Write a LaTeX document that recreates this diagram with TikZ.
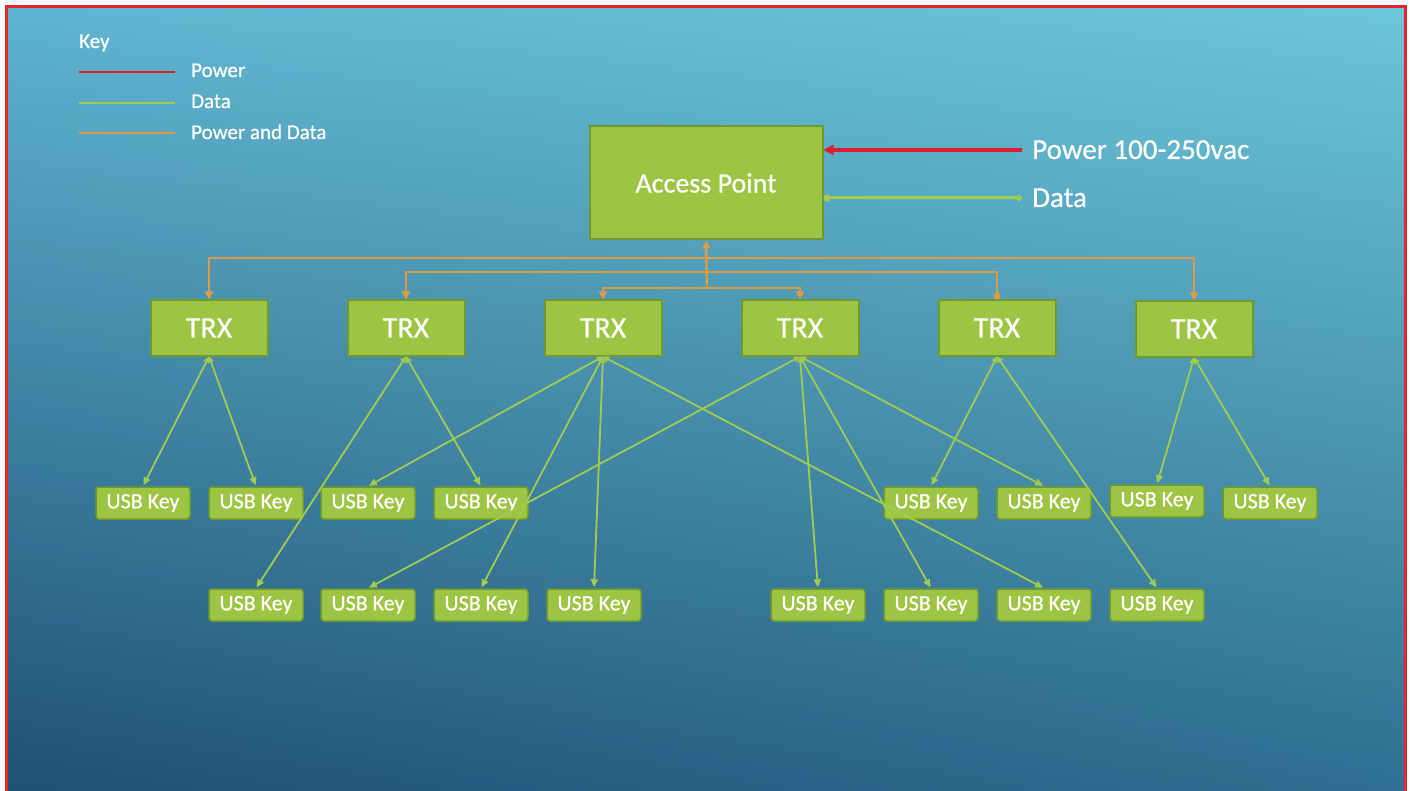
\documentclass[tikz,border=0pt]{standalone}
\usepackage{fontspec}
\setmainfont{Carlito}[BoldFont=Carlito, BoldFeatures={FakeBold=0.6}]
\usetikzlibrary{arrows.meta,shadings}
\definecolor{bgTL}{HTML}{5FB4CF}
\definecolor{bgTR}{HTML}{6CC6D9}
\definecolor{bgBL}{HTML}{1E4E74}
\definecolor{bgBR}{HTML}{2F6E90}
\definecolor{boxfill}{HTML}{9DC443}
\definecolor{boxedge}{HTML}{6E9B30}
\definecolor{datagreen}{HTML}{A2CB4F}
\definecolor{pdorange}{HTML}{DC9B45}
\definecolor{pwred}{HTML}{DD1E2B}
\definecolor{framered}{HTML}{E8242C}
\begin{document}
\begin{tikzpicture}[x=1pt,y=-1pt,
  box/.style={draw=boxedge, line width=2pt, fill=boxfill, text=white, inner sep=0pt},
  apbox/.style={box, minimum width=233pt, minimum height=113pt, font=\bfseries\fontsize{28}{30}\selectfont},
  trxbox/.style={box, minimum width=117pt, minimum height=55pt, font=\bfseries\fontsize{30}{32}\selectfont},
  usbbox/.style={box, line width=1.5pt, rounded corners=3pt, minimum width=94pt, minimum height=32pt, font=\bfseries\fontsize{22}{24}\selectfont},
  dataline/.style={draw=datagreen, line width=1.8pt, shorten >=1pt,
    {Triangle[length=6pt,width=6pt]}-{Triangle[length=8pt,width=7pt]}},
  pdline/.style={draw=pdorange, line width=2.5pt},
  pdtip/.style={-{Triangle[length=8pt,width=8pt]}},
  keytext/.style={text=white, anchor=base west, inner sep=0pt, font=\bfseries\fontsize{21}{23}\selectfont},
  sidetext/.style={text=white, anchor=base west, inner sep=0pt, font=\bfseries\fontsize{29}{31}\selectfont},
]
\useasboundingbox (0,0) rectangle (1410,791);
\fill[white] (0,0) rectangle (1410,791);
% backdrop and frame
\shade[upper left=bgTL, upper right=bgTR, lower left=bgBL, lower right=bgBR]
  (6,7) rectangle (1405,800);
\draw[framered, line width=3pt] (6,7) rectangle (1405,800);

% legend
\node[keytext] (keyhead) at (79,48) {Key};
\node[keytext] (kpw) at (191,77) {Power};
\node[keytext] (kdt) at (191,108) {Data};
\node[keytext] (kpd) at (191,139) {Power and Data};
\coordinate (kpwA) at (79,72);  \coordinate (kpwB) at (175,72);
\coordinate (kdtA) at (79,103); \coordinate (kdtB) at (175,103);
\coordinate (kpdA) at (79,133); \coordinate (kpdB) at (175,133);
\draw[pwred, line width=2.5pt] (kpwA) -- (kpwB);
\draw[datagreen, line width=2pt] (kdtA) -- (kdtB);
\draw[pdorange, line width=2pt] (kpdA) -- (kpdB);

% access point and its feeds
\node[apbox] (ap) at (706,183) {Access Point};
\node[sidetext] (pwlbl) at (1032,159) {Power 100-250vac};
\node[sidetext] (dtlbl) at (1032,207) {Data};
\coordinate (pwend) at (1022,150);
\coordinate (dtend) at (1022,198);
\draw[pwred, line width=3.2pt, -{Triangle[length=10pt,width=10pt]}] (pwend) -- (ap.east |- pwend);
\draw[datagreen, line width=3pt, {Circle[length=6pt]}-{Circle[length=7pt]}] (dtend) -- (ap.east |- dtend);

% transceivers
\node[trxbox] (t1) at (209,328) {TRX};
\node[trxbox] (t2) at (406,328) {TRX};
\node[trxbox] (t3) at (603,328) {TRX};
\node[trxbox] (t4) at (800,328) {TRX};
\node[trxbox] (t5) at (997,328) {TRX};
\node[trxbox] (t6) at (1194,329) {TRX};

% power and data distribution
\coordinate (hubA) at (707,258);
\coordinate (hubB) at (707,272);
\coordinate (hubC) at (707,288);
\draw[pdline, {Triangle[length=8pt,width=8pt]}-] (ap.south) -- (hubC);
\draw[pdline, pdtip] (hubA) -| (t1.north);
\draw[pdline, pdtip] (hubA) -| (t6.north);
\draw[pdline, pdtip] (hubB) -| (t2.north);
\draw[pdline, -{Circle[length=7pt]}] (hubB) -| (t5.north);
\draw[pdline, pdtip] (hubC) -| (t3.north);
\draw[pdline, pdtip] (hubC) -| (t4.north);

% USB keys, upper row
\node[usbbox] (u1) at (143,503) {USB Key};
\node[usbbox] (u2) at (256,503) {USB Key};
\node[usbbox] (u3) at (368,503) {USB Key};
\node[usbbox] (u4) at (481,503) {USB Key};
\node[usbbox] (u5) at (931,503) {USB Key};
\node[usbbox] (u6) at (1044,503) {USB Key};
\node[usbbox] (u7) at (1157,501) {USB Key};
\node[usbbox] (u8) at (1270,503) {USB Key};
% USB keys, lower row
\node[usbbox] (v1) at (256,605) {USB Key};
\node[usbbox] (v2) at (368,605) {USB Key};
\node[usbbox] (v3) at (481,605) {USB Key};
\node[usbbox] (v4) at (594,605) {USB Key};
\node[usbbox] (v5) at (818,605) {USB Key};
\node[usbbox] (v6) at (931,605) {USB Key};
\node[usbbox] (v7) at (1044,605) {USB Key};
\node[usbbox] (v8) at (1157,605) {USB Key};

% data links
\draw[dataline] (t1.south) -- (u1.north);
\draw[dataline] (t1.south) -- (u2.north);
\draw[dataline] (t2.south) -- (v1.north);
\draw[dataline] (t2.south) -- (u4.north);
\draw[dataline] (t3.south) -- (u3.north);
\draw[dataline] (t3.south) -- (v3.north);
\draw[dataline] (t3.south) -- (v4.north);
\draw[dataline] (t3.south) -- (v7.north);
\draw[dataline] (t4.south) -- (v2.north);
\draw[dataline] (t4.south) -- (v5.north);
\draw[dataline] (t4.south) -- (v6.north);
\draw[dataline] (t4.south) -- (u6.north);
\draw[dataline] (t5.south) -- (u5.north);
\draw[dataline] (t5.south) -- (v8.north);
\draw[dataline] (t6.south) -- (u7.north);
\draw[dataline] (t6.south) -- (u8.north);
\end{tikzpicture}
\end{document}
